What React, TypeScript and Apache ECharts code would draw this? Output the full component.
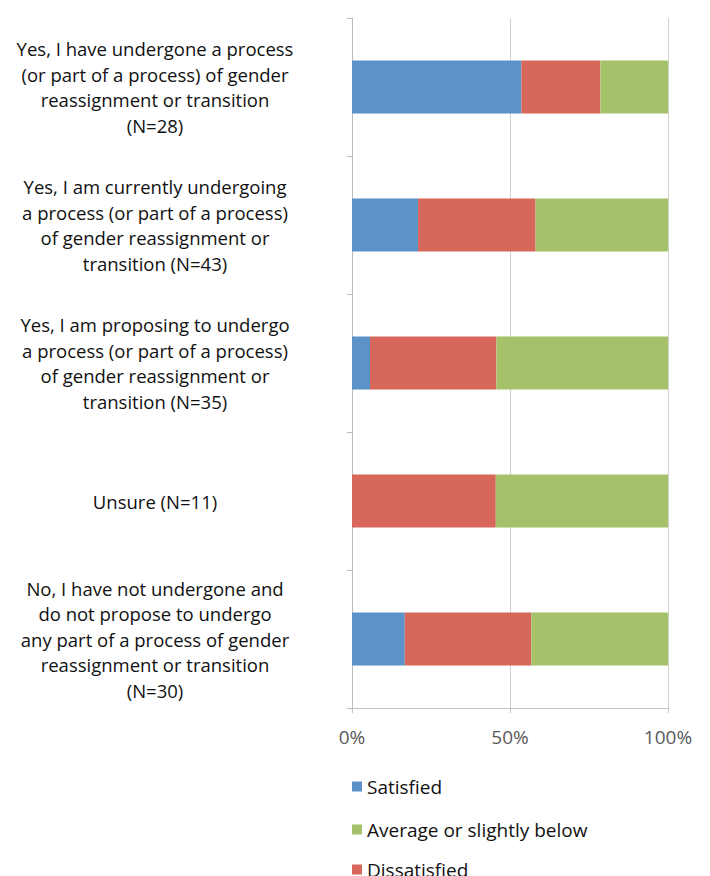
import React, { useEffect, useRef } from "react";
import * as echarts from "echarts";

const categories = [
  "Yes, I have undergone a process\n(or part of a process) of gender\nreassignment or transition\n(N=28)",
  "Yes, I am currently undergoing\na process (or part of a process)\nof gender reassignment or\ntransition (N=43)",
  "Yes, I am proposing to undergo\na process (or part of a process)\nof gender reassignment or\ntransition (N=35)",
  "Unsure (N=11)",
  "No, I have not undergone and\ndo not propose to undergo\nany part of a process of gender\nreassignment or transition\n(N=30)",
];

const satisfied = [53.6, 20.9, 5.7, 0, 16.7];
const dissatisfied = [25.0, 37.2, 40.0, 45.5, 40.0];
const average = [21.4, 41.9, 54.3, 54.5, 43.3];

const xTicks = [0, 50, 100];

const legendNames = ["Satisfied", "Average or slightly below", "Dissatisfied"];
const legendTops = [772, 815, 855];

const colors = {
  satisfied: "#5B93C9",
  dissatisfied: "#D6675A",
  average: "#A5C26B",
};

export default function App() {
  const ref = useRef<HTMLDivElement>(null);
  useEffect(() => {
    if (!ref.current) return;
    const chart = echarts.init(ref.current, undefined, { renderer: "svg" });
    const font = "Open Sans";
    chart.setOption({
      animation: false,
      backgroundColor: "#ffffff",
      grid: { left: 352, top: 18, width: 316, height: 690, containLabel: false },
      legend: legendNames.map((n, i) => ({
        orient: "vertical",
        left: 347,
        top: legendTops[i],
        icon: "rect",
        itemWidth: 10,
        itemHeight: 10,
        data: [n],
        textStyle: { fontFamily: font, fontSize: 19, color: "#111111" },
      })),
      xAxis: {
        type: "value",
        min: xTicks[0],
        max: xTicks[xTicks.length - 1],
        interval: 50,
        axisLine: { show: true, lineStyle: { color: "#c4c4c4", width: 1 } },
        axisTick: { show: true, length: 5, lineStyle: { color: "#c4c4c4" } },
        splitLine: { show: true, lineStyle: { color: "#cfcfcf", width: 1 } },
        axisLabel: {
          formatter: "{value}%",
          fontFamily: font,
          fontSize: 19,
          color: "#595959",
          margin: 19,
        },
      },
      yAxis: {
        type: "category",
        inverse: true,
        data: categories,
        axisLine: { show: true, lineStyle: { color: "#bdbdbd", width: 1 } },
        axisTick: { show: true, length: 5, lineStyle: { color: "#bdbdbd" } },
        splitLine: { show: false },
        axisLabel: {
          align: "center",
          margin: 197,
          fontFamily: font,
          fontSize: 18.5,
          lineHeight: 25.5,
          color: "#111111",
        },
      },
      series: [
        {
          name: "Satisfied",
          type: "bar",
          stack: "total",
          barWidth: 53,
          data: satisfied,
          itemStyle: { color: colors.satisfied },
        },
        {
          name: "Dissatisfied",
          type: "bar",
          stack: "total",
          barWidth: 53,
          data: dissatisfied,
          itemStyle: { color: colors.dissatisfied },
        },
        {
          name: "Average or slightly below",
          type: "bar",
          stack: "total",
          barWidth: 53,
          data: average,
          itemStyle: { color: colors.average },
        },
      ],
    });
    return () => chart.dispose();
  }, []);
  return (
    <div
      ref={ref}
      style={{ position: "fixed", left: 0, top: 0, width: 710, height: 876 }}
    />
  );
}
